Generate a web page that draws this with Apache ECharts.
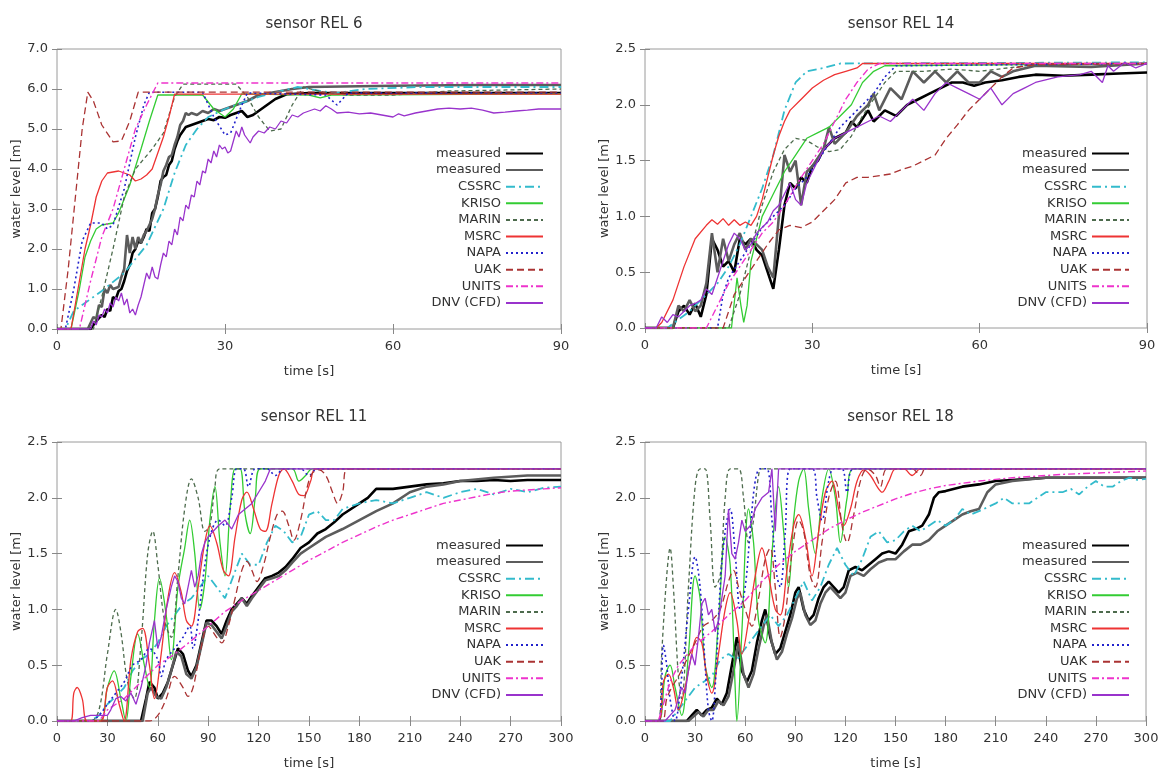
<!DOCTYPE html>
<html>
<head>
<meta charset="utf-8">
<script src="https://cdn.jsdelivr.net/npm/echarts@6/dist/echarts.min.js"></script>
<style>
  html, body { margin: 0; padding: 0; background: #fff; }
  #chart { width: 1163px; height: 773px; }
</style>
</head>
<body>
<div id="chart"></div>
<script>
// legend labels, same order in every panel
const seriesNames = ['measured', 'measured', 'CSSRC', 'KRISO', 'MARIN', 'MSRC', 'NAPA', 'UAK', 'UNITS', 'DNV (CFD)'];
const panelTitles = ['sensor REL 6', 'sensor REL 14', 'sensor REL 11', 'sensor REL 18'];
const xMaxes = [90, 90, 300, 300];
const yMaxes = [7, 2.5, 2.5, 2.5];
const ySteps = [1, 0.5, 0.5, 0.5];

// ---- sensor REL 6 ----
const rel6_meas1 = [[0,0],[6,0],[7,0.2],[8,0.35],[8.5,0.3],[9,0.5],[9.5,0.45],[10,0.8],[10.5,0.75],[11,0.95],[11.5,1.0],[12,1.2],[12.5,1.45],[13,1.6],[13.5,1.9],[14,2.0],[14.5,2.2],[15,2.15],[15.5,2.3],[16,2.5],[16.5,2.45],[17,2.9],[17.5,3.0],[18,3.3],[18.5,3.7],[19,3.8],[19.5,3.85],[20,4.1],[20.5,4.2],[21,4.5],[21.5,4.7],[22,4.85],[22.5,4.95],[23,5.05],[24,5.1],[25,5.15],[26,5.2],[27,5.25],[28,5.22],[29,5.3],[30,5.28],[31,5.35],[32,5.4],[33,5.45],[34,5.3],[35,5.35],[36,5.45],[37,5.55],[38,5.65],[39,5.75],[41,5.87],[45,5.9],[60,5.9],[75,5.9],[90,5.9]];
const rel6_meas2 = [[0,0],[5.5,0],[6.5,0.3],[7,0.25],[7.5,0.6],[8,0.55],[8.5,1.0],[9,0.9],[9.5,1.1],[10,1.0],[11,1.05],[11.5,1.3],[12,1.5],[12.5,2.35],[13,1.9],[13.5,2.3],[14,2.0],[14.5,2.3],[15,2.15],[15.5,2.35],[16,2.45],[16.5,2.6],[17,2.75],[17.5,3.0],[18,3.35],[18.5,3.6],[19,3.95],[19.5,4.1],[20,4.3],[20.5,4.35],[21,4.6],[21.5,4.8],[22,5.1],[22.5,5.2],[23,5.4],[23.5,5.35],[24,5.4],[25,5.35],[26,5.45],[27,5.4],[28,5.5],[29,5.45],[30,5.5],[31,5.55],[32,5.6],[33,5.65],[34,5.7],[36,5.85],[38,5.9],[42,6.0],[45,6.05],[60,6.08],[75,6.1],[90,6.1]];
const rel6_cssrc = [[0,0],[1.5,0],[3,0.45],[5,0.65],[8,0.95],[12,1.4],[16,2.1],[19,3.0],[21,3.9],[23,4.6],[25,5.0],[27,5.3],[30,5.5],[33,5.65],[36,5.8],[40,5.95],[43,6.05],[47,5.95],[50,5.9],[55,6.0],[65,6.05],[90,6.05]];
const rel6_kriso = [[0,0],[2.5,0],[4,1.0],[5,1.8],[6,2.2],[7,2.5],[8,2.6],[10,2.65],[11,2.9],[13,3.6],[15,4.5],[16.5,5.2],[18,5.85],[26,5.85],[28,5.5],[30,5.3],[31.5,5.5],[33,5.88],[45,5.85],[47,5.78],[49,5.85],[90,5.88]];
const rel6_marin = [[0,0],[6.5,0],[8,0.8],[10,2.0],[12,3.3],[14,4.0],[17,4.5],[19,4.9],[21,5.8],[22.5,6.12],[32,6.12],[34,5.8],[36,5.3],[38,4.95],[40,5.0],[42,5.6],[44,6.05],[48,5.9],[52,5.85],[60,5.85],[70,5.95],[90,6.0]];
const rel6_msrc = [[0,0],[2.5,0],[4,1.2],[5,2.0],[6,2.6],[7,3.3],[8,3.7],[9,3.9],[11,3.95],[13,3.85],[14,3.7],[15,3.75],[16,3.85],[17,4.0],[18,4.4],[19,4.8],[20,5.3],[21,5.87],[90,5.87]];
const rel6_napa = [[0,0],[1.5,0],[3,1.0],[4.5,2.2],[6,2.65],[8,2.65],[9,2.5],[10,2.6],[12,3.5],[14,4.8],[15.5,5.6],[16.5,5.92],[26,5.92],[28,5.3],[30,4.85],[31,4.9],[33,5.6],[34,5.9],[48,5.85],[50,5.6],[52,5.9],[90,5.9]];
const rel6_uak = [[0,0],[0.7,0],[2,1.5],[3.5,3.6],[4.5,5.0],[5.5,5.92],[6.5,5.7],[8,5.1],[10,4.68],[11.5,4.7],[13,5.2],[14.5,5.92],[90,5.92]];
const rel6_units = [[0,0],[4,0],[6,1.2],[8,2.3],[10,3.0],[12,4.0],[14,5.0],[16,5.6],[18,6.15],[90,6.15]];
const rel6_dnv = [[0,0],[6,0],[6.5,0.2],[7,0.1],[7.5,0.35],[8,0.3],[8.5,0.5],[9,0.4],[9.5,0.65],[10,0.55],[10.5,0.8],[11,0.7],[11.5,0.9],[12,0.6],[12.5,0.75],[13,0.4],[13.5,0.5],[14,0.35],[14.5,0.6],[15,0.8],[15.5,1.1],[16,1.4],[16.5,1.25],[17,1.55],[17.5,1.3],[18,1.25],[18.5,1.6],[19,1.9],[19.5,1.8],[20,2.2],[20.5,2.1],[21,2.5],[21.5,2.35],[22,2.8],[22.5,2.7],[23,3.1],[23.5,3.0],[24,3.35],[24.5,3.3],[25,3.7],[25.5,3.6],[26,3.95],[26.5,3.9],[27,4.25],[27.5,4.15],[28,4.45],[28.5,4.3],[29,4.6],[29.5,4.5],[30,4.55],[30.5,4.4],[31,4.45],[31.5,4.7],[32,4.95],[32.5,4.8],[33,5.05],[33.5,4.85],[34,4.75],[34.5,4.65],[35,4.8],[36,4.95],[37,4.9],[38,5.05],[39,5.0],[40,5.2],[41,5.15],[42,5.35],[43,5.3],[44,5.4],[45,5.45],[46,5.5],[47,5.45],[48,5.58],[49,5.5],[50,5.4],[52,5.42],[54,5.38],[56,5.4],[58,5.35],[60,5.3],[61,5.38],[62,5.33],[64,5.4],[66,5.45],[68,5.5],[70,5.52],[72,5.5],[74,5.52],[76,5.47],[78,5.4],[80,5.42],[82,5.45],[84,5.47],[86,5.5],[88,5.5],[90,5.5]];

// ---- sensor REL 14 ----
const rel14_meas1 = [[0,0],[5,0],[6,0.15],[7,0.2],[8,0.12],[9,0.22],[10,0.1],[11,0.3],[12,0.8],[13,0.7],[14,0.55],[15,0.6],[16,0.5],[17,0.8],[18,0.75],[19,0.8],[20,0.7],[21,0.65],[22,0.5],[23,0.35],[24,0.7],[25,1.1],[26,1.3],[27,1.25],[28,1.35],[29,1.3],[30,1.45],[31,1.5],[32,1.6],[33,1.65],[34,1.7],[36,1.75],[37,1.85],[38,1.8],[40,1.95],[41,1.85],[43,1.95],[45,1.9],[47,2.0],[49,2.05],[51,2.1],[53,2.15],[55,2.2],[57,2.2],[59,2.17],[61,2.2],[64,2.22],[67,2.25],[70,2.27],[75,2.26],[80,2.27],[85,2.28],[90,2.29]];
const rel14_meas2 = [[0,0],[5,0],[6,0.2],[7,0.15],[8,0.25],[9,0.15],[10,0.2],[11,0.4],[12,0.85],[13,0.5],[14,0.8],[15,0.6],[16,0.75],[17,0.85],[18,0.7],[19,0.8],[20,0.75],[21,0.7],[22,0.55],[23,0.45],[24,1.0],[25,1.55],[26,1.4],[27,1.5],[28,1.1],[29,1.4],[30,1.45],[32,1.6],[33,1.8],[34,1.65],[36,1.75],[38,1.9],[40,2.0],[41,2.1],[42,1.95],[44,2.15],[46,2.05],[48,2.3],[50,2.2],[52,2.3],[54,2.2],[56,2.3],[58,2.2],[60,2.2],[62,2.3],[64,2.25],[66,2.3],[70,2.35],[80,2.34],[90,2.37]];
const rel14_cssrc = [[0,0],[4,0],[8,0.15],[11,0.3],[13,0.4],[15,0.55],[17,0.75],[19,1.0],[21,1.25],[23,1.55],[25,1.95],[27,2.2],[29,2.3],[32,2.33],[35,2.37],[90,2.38]];
const rel14_kriso = [[0,0],[15.5,0],[16.5,0.45],[17.2,0.2],[17.7,0.05],[18.3,0.2],[19,0.6],[21,1.0],[23,1.2],[25,1.4],[27,1.55],[29,1.7],[31,1.75],[33,1.8],[35,1.9],[37,2.0],[39,2.2],[41,2.3],[43,2.35],[90,2.37]];
const rel14_marin = [[0,0],[15,0],[17,0.3],[19,0.7],[21,1.1],[23,1.4],[25,1.6],[27,1.7],[29,1.68],[31,1.62],[33,1.58],[35,1.6],[37,1.72],[39,1.9],[41,2.05],[43,2.2],[45,2.3],[50,2.3],[55,2.32],[60,2.3],[65,2.33],[70,2.36],[90,2.37]];
const rel14_msrc = [[0,0],[2,0],[3,0.05],[5,0.25],[7,0.55],[9,0.8],[11,0.92],[12,0.97],[13,0.93],[14,0.98],[15,0.92],[16,0.97],[17,0.92],[18,0.95],[19,0.92],[20,1.0],[21,1.15],[22,1.35],[23,1.55],[24,1.72],[25,1.85],[26,1.95],[28,2.05],[30,2.15],[32,2.22],[34,2.27],[36,2.3],[38,2.33],[39,2.37],[90,2.37]];
const rel14_napa = [[0,0],[13,0],[14,0.3],[15,0.45],[17,0.6],[19,0.75],[21,0.9],[23,1.0],[25,1.1],[27,1.25],[29,1.35],[31,1.5],[33,1.65],[35,1.8],[37,1.9],[39,2.0],[41,2.1],[43,2.25],[45,2.35],[90,2.37]];
const rel14_uak = [[0,0],[14,0],[16,0.3],[18,0.45],[20,0.6],[22,0.75],[24,0.88],[26,0.92],[28,0.9],[30,0.95],[32,1.05],[34,1.15],[36,1.3],[38,1.35],[40,1.35],[44,1.38],[46,1.42],[48,1.45],[50,1.5],[52,1.55],[54,1.7],[56,1.82],[58,1.95],[60,2.05],[62,2.15],[64,2.25],[66,2.33],[70,2.36],[90,2.37]];
const rel14_units = [[0,0],[11,0],[13,0.2],[15,0.4],[17,0.55],[19,0.7],[21,0.85],[23,0.95],[25,1.1],[28,1.35],[30,1.5],[32,1.65],[34,1.85],[36,2.05],[38,2.2],[40,2.32],[42,2.37],[90,2.37]];
const rel14_dnv = [[0,0],[2,0],[3,0.1],[4,0.05],[5,0.12],[6,0.1],[7,0.15],[8,0.2],[9,0.22],[10,0.25],[11,0.35],[12,0.3],[13,0.45],[14,0.6],[15,0.75],[16,0.85],[17,0.8],[18,0.7],[19,0.75],[20,0.85],[21,0.9],[22,0.95],[23,1.05],[24,1.1],[25,1.2],[26,1.3],[27,1.15],[28,1.1],[29,1.3],[30,1.4],[31,1.5],[32,1.6],[34,1.7],[36,1.75],[38,1.8],[40,1.85],[42,1.9],[44,1.85],[46,1.95],[48,2.05],[50,1.95],[52,2.1],[54,2.2],[56,2.15],[58,2.1],[60,2.05],[62,2.15],[64,2.0],[66,2.1],[68,2.15],[70,2.2],[74,2.25],[78,2.27],[80,2.3],[82,2.2],[83,2.35],[84,2.3],[86,2.38],[88,2.33],[90,2.37]];

// ---- sensor REL 11 ----
const rel11_meas1 = [[0,0],[50,0],[53,0.2],[55,0.35],[58,0.3],[60,0.2],[63,0.25],[66,0.35],[70,0.55],[72,0.65],[75,0.6],[78,0.45],[80,0.4],[83,0.5],[86,0.7],[89,0.9],[92,0.9],[95,0.85],[98,0.78],[101,0.9],[104,1.0],[107,1.05],[110,1.1],[113,1.05],[116,1.12],[120,1.2],[124,1.28],[128,1.3],[132,1.33],[136,1.38],[140,1.45],[145,1.55],[150,1.6],[155,1.68],[160,1.72],[165,1.78],[170,1.85],[175,1.9],[180,1.95],[185,2.0],[190,2.08],[200,2.08],[210,2.1],[220,2.12],[230,2.13],[240,2.15],[250,2.15],[260,2.16],[270,2.15],[280,2.16],[290,2.16],[300,2.16]];
const rel11_meas2 = [[0,0],[51,0],[54,0.25],[56,0.3],[59,0.22],[62,0.2],[65,0.3],[68,0.45],[71,0.62],[74,0.58],[77,0.42],[80,0.38],[83,0.48],[86,0.68],[89,0.88],[92,0.86],[95,0.8],[98,0.74],[101,0.85],[104,0.98],[107,1.03],[110,1.1],[113,1.03],[116,1.1],[120,1.18],[124,1.26],[128,1.28],[132,1.3],[136,1.35],[140,1.42],[145,1.5],[150,1.55],[160,1.65],[170,1.72],[180,1.8],[190,1.88],[200,1.95],[210,2.05],[220,2.1],[230,2.12],[240,2.15],[260,2.18],[280,2.2],[300,2.2]];
const rel11_cssrc = [[0,0],[20,0],[25,0.05],[30,0.15],[35,0.22],[40,0.3],[45,0.45],[50,0.55],[55,0.6],[60,0.7],[65,0.85],[70,0.95],[75,1.05],[80,1.1],[85,1.2],[90,1.3],[95,1.2],[100,1.1],[105,1.3],[110,1.5],[115,1.4],[120,1.4],[125,1.6],[130,1.75],[135,1.7],[140,1.6],[145,1.65],[150,1.85],[155,1.88],[160,1.8],[165,1.8],[170,1.9],[180,1.95],[190,1.98],[200,1.95],[210,2.0],[220,2.05],[230,2.0],[240,2.05],[250,2.08],[260,2.03],[270,2.08],[280,2.05],[290,2.09],[300,2.1]];
const rel11_kriso = [[0,0],[25,0],[30,0.3],[34,0.45],[38,0.2],[41,0],[44,0.4],[48,0.78],[52,0.5],[55,0.3],[58,0.9],[61,1.28],[65,0.95],[68,0.55],[72,1.2],[76,1.55],[79,1.8],[82,1.5],[85,1.0],[88,1.25],[91,1.8],[94,2.1],[97,1.6],[100,1.3],[103,1.9],[106,2.26],[109,2.26],[112,1.85],[115,1.68],[118,2.0],[121,2.26],[140,2.26],[144,2.15],[148,2.2],[152,2.26],[300,2.26]];
const rel11_marin = [[0,0],[20,0],[25,0.1],[30,0.6],[35,1.0],[38,0.8],[42,0.35],[46,0.2],[50,0.7],[54,1.5],[57,1.7],[60,1.4],[64,0.9],[68,0.75],[72,1.3],[76,1.9],[80,2.17],[84,2.0],[88,1.7],[91,1.75],[94,2.1],[97,2.26],[300,2.26]];
const rel11_msrc = [[0,0],[8,0],[10,0.25],[12,0.3],[15,0.2],[18,0],[26,0],[30,0.3],[33,0.36],[37,0.15],[40,0],[44,0.55],[48,0.8],[51,0.83],[55,0.5],[58,0.2],[62,0.6],[66,1.1],[70,1.33],[74,1.15],[77,0.9],[80,0.85],[84,1.2],[88,1.6],[91,1.75],[95,1.6],[99,1.35],[102,1.3],[106,1.65],[110,1.98],[113,2.05],[117,1.9],[121,1.72],[124,1.7],[128,1.95],[132,2.2],[135,2.26],[140,2.15],[144,2.03],[147,2.02],[151,2.15],[154,2.26],[300,2.26]];
const rel11_napa = [[0,0],[20,0],[25,0.05],[30,0.15],[35,0.25],[40,0.35],[45,0.5],[50,0.55],[55,0.65],[60,0.55],[62,0.4],[65,0.55],[70,0.65],[75,0.75],[79,0.85],[81,0.65],[84,0.9],[88,1.4],[92,1.7],[96,1.8],[100,1.75],[104,2.0],[107,2.26],[111,2.26],[114,2.1],[118,2.26],[125,2.26],[130,2.2],[135,2.26],[145,2.26],[150,2.2],[155,2.26],[300,2.26]];
const rel11_uak = [[0,0],[55,0],[60,0.05],[65,0.2],[70,0.4],[75,0.3],[78,0.22],[81,0.3],[85,0.6],[90,0.85],[95,0.75],[98,0.7],[102,0.85],[106,1.1],[110,1.35],[113,1.43],[116,1.35],[119,1.25],[123,1.4],[127,1.65],[131,1.85],[134,1.88],[138,1.75],[141,1.62],[145,1.8],[149,2.1],[152,2.22],[156,2.25],[160,2.2],[164,2.05],[167,1.95],[170,2.05],[173,2.26],[300,2.26]];
const rel11_units = [[0,0],[25,0],[30,0.1],[40,0.2],[50,0.35],[60,0.5],[70,0.6],[80,0.72],[90,0.85],[100,0.98],[110,1.08],[120,1.17],[130,1.26],[140,1.35],[150,1.44],[160,1.52],[170,1.6],[180,1.67],[190,1.74],[200,1.8],[210,1.85],[220,1.9],[230,1.95],[240,1.98],[250,2.01],[260,2.04],[270,2.06],[280,2.07],[290,2.08],[300,2.09]];
const rel11_dnv = [[0,0],[10,0],[15,0.03],[20,0.05],[30,0.05],[32,0.1],[35,0.2],[38,0.22],[41,0.18],[44,0.25],[47,0.15],[50,0.3],[53,0.5],[55,0.7],[58,0.9],[60,0.65],[62,0.75],[65,1.0],[68,1.2],[70,1.3],[72,1.25],[74,1.1],[76,1.05],[78,1.2],[80,1.35],[82,1.2],[84,1.3],[86,1.5],[88,1.6],[90,1.65],[93,1.7],[96,1.75],[100,1.8],[104,1.72],[108,1.85],[112,1.9],[116,1.95],[120,2.05],[124,2.15],[127,2.26],[300,2.26]];

// ---- sensor REL 18 ----
const rel18_meas1 = [[0,0],[25,0],[28,0.05],[31,0.1],[34,0.05],[37,0.1],[40,0.12],[43,0.2],[46,0.15],[49,0.25],[52,0.5],[55,0.75],[58,0.45],[61,0.35],[64,0.45],[67,0.7],[70,0.9],[72,1.0],[75,0.75],[78,0.6],[81,0.65],[84,0.8],[87,0.95],[90,1.15],[92,1.2],[95,1.0],[98,0.9],[101,0.95],[104,1.1],[107,1.2],[110,1.25],[113,1.2],[116,1.15],[119,1.2],[122,1.35],[126,1.38],[130,1.35],[134,1.4],[138,1.45],[142,1.5],[146,1.52],[150,1.5],[154,1.58],[158,1.7],[162,1.72],[166,1.75],[170,1.85],[173,2.0],[176,2.05],[180,2.06],[190,2.1],[200,2.12],[210,2.15],[220,2.16],[230,2.17],[240,2.18],[260,2.18],[280,2.18],[300,2.18]];
const rel18_meas2 = [[0,0],[26,0],[29,0.04],[32,0.08],[35,0.04],[38,0.1],[41,0.1],[44,0.18],[47,0.14],[50,0.22],[53,0.45],[56,0.7],[59,0.42],[62,0.3],[65,0.42],[68,0.65],[71,0.85],[73,0.95],[76,0.7],[79,0.55],[82,0.62],[85,0.78],[88,0.92],[91,1.1],[93,1.15],[96,0.95],[99,0.86],[102,0.9],[105,1.05],[108,1.15],[111,1.2],[114,1.15],[117,1.1],[120,1.15],[123,1.3],[127,1.33],[131,1.3],[135,1.36],[140,1.42],[145,1.45],[150,1.45],[155,1.52],[160,1.58],[165,1.58],[170,1.62],[175,1.7],[180,1.75],[185,1.8],[190,1.85],[195,1.88],[200,1.9],[205,2.05],[210,2.12],[220,2.15],[240,2.18],[270,2.18],[300,2.18]];
const rel18_cssrc = [[0,0],[15,0],[20,0.1],[25,0.2],[30,0.3],[35,0.35],[40,0.4],[45,0.55],[50,0.6],[55,0.55],[60,0.65],[65,0.75],[70,0.85],[75,0.95],[80,0.85],[85,0.95],[90,1.1],[95,1.25],[100,1.08],[105,1.2],[110,1.4],[115,1.55],[120,1.4],[125,1.3],[130,1.45],[135,1.65],[140,1.7],[145,1.6],[150,1.62],[155,1.7],[160,1.75],[165,1.7],[170,1.75],[175,1.8],[180,1.75],[185,1.8],[190,1.9],[195,1.85],[200,1.88],[210,1.95],[215,2.0],[220,1.95],[230,1.95],[235,2.0],[240,2.05],[245,2.05],[250,2.05],[255,2.08],[260,2.03],[265,2.1],[270,2.15],[275,2.1],[280,2.1],[285,2.15],[290,2.18],[295,2.16],[300,2.17]];
const rel18_kriso = [[0,0],[8,0],[12,0.4],[15,0.5],[18,0.3],[22,0.05],[26,0.6],[30,1.3],[33,1.1],[36,0.5],[40,0.3],[44,0.9],[48,1.65],[51,1.4],[54,0.3],[55,0],[58,0.8],[62,1.9],[65,1.6],[68,0.9],[72,0.7],[76,1.5],[80,2.1],[83,1.7],[86,1.2],[89,1.8],[92,2.15],[95,2.26],[98,1.9],[102,1.5],[106,2.0],[110,2.26],[114,2.0],[117,1.6],[121,2.0],[125,2.26],[300,2.26]];
const rel18_marin = [[0,0],[8,0],[10,0.6],[13,1.3],[15,1.55],[17,1.2],[20,0.4],[22,0.2],[26,1.2],[30,2.1],[33,2.26],[36,2.26],[39,1.8],[42,1.2],[45,1.3],[48,2.0],[51,2.26],[56,2.26],[59,2.0],[62,1.6],[65,1.8],[68,2.2],[70,2.26],[300,2.26]];
const rel18_msrc = [[0,0],[8,0],[11,0.35],[14,0.42],[17,0.3],[20,0.1],[24,0.3],[28,0.6],[31,0.75],[34,0.7],[37,0.4],[40,0.25],[44,0.6],[48,1.0],[51,1.15],[55,0.9],[58,0.6],[62,0.9],[66,1.3],[70,1.55],[74,1.3],[78,1.0],[81,0.95],[85,1.35],[89,1.75],[92,1.85],[96,1.65],[100,1.3],[104,1.7],[108,2.05],[112,2.15],[116,1.9],[119,1.75],[123,1.9],[127,2.15],[131,2.25],[135,2.2],[139,2.1],[142,2.05],[146,2.15],[150,2.26],[155,2.26],[160,2.2],[165,2.26],[300,2.26]];
const rel18_napa = [[0,0],[8,0],[11,0.68],[13,0.5],[15,0.2],[18,0],[22,0.4],[26,1.0],[30,1.47],[33,1.2],[36,0.5],[38,0.1],[40,0],[42,0.3],[45,1.2],[48,1.7],[51,1.9],[54,1.5],[57,1.0],[60,1.2],[63,1.7],[66,2.15],[69,2.26],[73,2.26],[76,1.8],[79,1.3],[81,1.2],[84,1.7],[87,2.26],[100,2.26],[103,2.0],[106,1.8],[110,2.15],[113,2.26],[118,2.26],[121,2.05],[125,2.26],[300,2.26]];
const rel18_uak = [[0,0],[10,0],[13,0.2],[16,0.3],[20,0.4],[25,0.55],[30,0.7],[35,0.85],[40,0.9],[45,1.0],[50,1.25],[53,1.35],[56,1.2],[60,1.0],[64,0.85],[68,1.1],[72,1.45],[75,1.55],[78,1.2],[81,0.75],[84,0.95],[88,1.5],[92,1.8],[95,1.7],[99,1.3],[102,1.2],[106,1.6],[110,2.0],[114,2.15],[118,1.75],[121,1.6],[125,1.85],[129,2.15],[133,2.26],[138,2.2],[141,2.1],[145,2.26],[160,2.26],[165,2.2],[168,2.26],[300,2.26]];
const rel18_units = [[0,0],[8,0],[10,0.1],[15,0.35],[20,0.5],[30,0.68],[40,0.8],[50,0.95],[60,1.08],[70,1.25],[80,1.4],[90,1.52],[100,1.62],[110,1.72],[120,1.8],[130,1.87],[140,1.93],[150,1.99],[160,2.04],[170,2.08],[180,2.11],[200,2.15],[220,2.18],[250,2.21],[300,2.24]];
const rel18_dnv = [[0,0],[12,0],[15,0.05],[18,0.1],[20,0.2],[22,0.3],[24,0.25],[26,0.45],[28,0.6],[30,0.5],[32,0.75],[34,1.05],[36,1.1],[38,0.95],[40,1.0],[42,0.8],[44,0.9],[46,1.1],[48,1.3],[50,1.9],[52,1.5],[54,1.45],[56,1.6],[58,1.8],[60,1.7],[63,1.75],[66,1.9],[70,2.0],[74,2.05],[76,2.26],[78,1.7],[80,2.26],[300,2.26]];

const panelData = [
  [rel6_meas1, rel6_meas2, rel6_cssrc, rel6_kriso, rel6_marin, rel6_msrc, rel6_napa, rel6_uak, rel6_units, rel6_dnv],
  [rel14_meas1, rel14_meas2, rel14_cssrc, rel14_kriso, rel14_marin, rel14_msrc, rel14_napa, rel14_uak, rel14_units, rel14_dnv],
  [rel11_meas1, rel11_meas2, rel11_cssrc, rel11_kriso, rel11_marin, rel11_msrc, rel11_napa, rel11_uak, rel11_units, rel11_dnv],
  [rel18_meas1, rel18_meas2, rel18_cssrc, rel18_kriso, rel18_marin, rel18_msrc, rel18_napa, rel18_uak, rel18_units, rel18_dnv]
];

// line look per series (gnuplot style)
const lineStyles = [
  { color: '#000000', width: 2.6, type: 'solid' },
  { color: '#5c5c5c', width: 2.6, type: 'solid' },
  { color: '#33bbcc', width: 1.8, type: [9, 4, 2, 4] },
  { color: '#33cc33', width: 1.3, type: 'solid' },
  { color: '#4d6b4d', width: 1.3, type: [4, 3] },
  { color: '#ee3333', width: 1.3, type: 'solid' },
  { color: '#2222cc', width: 1.6, type: [2, 3] },
  { color: '#aa3333', width: 1.3, type: [7, 4] },
  { color: '#ee33cc', width: 1.4, type: [7, 3, 2, 3] },
  { color: '#9933cc', width: 1.3, type: 'solid' }
];

const font = 'DejaVu Sans';
const grids = [
  { left: 57, top: 49, width: 504, height: 280 },
  { left: 645, top: 49, width: 502, height: 279 },
  { left: 57, top: 442, width: 504, height: 279 },
  { left: 645, top: 442, width: 501, height: 279 }
];
const legendPos = [
  { right: 619, top: 147 },
  { right: 33, top: 147 },
  { right: 619, top: 539 },
  { right: 33, top: 539 }
];
const yNameGap = [31, 34, 31, 34];

let option = {
  animation: false,
  backgroundColor: '#fff',
  title: [], grid: [], xAxis: [], yAxis: [], legend: [], series: []
};

panelData.forEach((list, p) => {
  const g = grids[p];
  option.grid.push(Object.assign({ show: true, borderColor: '#9a9a9a', borderWidth: 1, backgroundColor: 'transparent' }, g));
  option.title.push({
    text: panelTitles[p],
    left: g.left + g.width / 2,
    top: g.top - 37,
    textAlign: 'center',
    textStyle: { fontFamily: font, fontSize: 15, fontWeight: 'normal', color: '#333' }
  });
  const tick = { show: true, inside: true, length: 5, lineStyle: { color: '#888' } };
  // bottom + top x axes
  option.xAxis.push({
    type: 'value', gridIndex: p, min: 0, max: xMaxes[p], interval: 30,
    name: 'time [s]', nameLocation: 'middle', nameGap: 36,
    nameTextStyle: { fontFamily: font, fontSize: 13, color: '#333' },
    axisLine: { show: false }, axisTick: tick, splitLine: { show: false },
    axisLabel: { margin: 11, fontFamily: font, fontSize: 13, color: '#333' }
  });
  option.xAxis.push({
    type: 'value', gridIndex: p, position: 'top', min: 0, max: xMaxes[p], interval: 30,
    axisLine: { show: false }, axisTick: tick, splitLine: { show: false }, axisLabel: { show: false }
  });
  // left + right y axes
  option.yAxis.push({
    type: 'value', gridIndex: p, min: 0, max: yMaxes[p], interval: ySteps[p],
    name: 'water level [m]', nameLocation: 'middle', nameGap: yNameGap[p],
    nameTextStyle: { fontFamily: font, fontSize: 13, color: '#333' },
    axisLine: { show: false }, axisTick: tick, splitLine: { show: false },
    axisLabel: { margin: 9, fontFamily: font, fontSize: 13, color: '#333', formatter: v => v.toFixed(1) }
  });
  option.yAxis.push({
    type: 'value', gridIndex: p, position: 'right', min: 0, max: yMaxes[p], interval: ySteps[p],
    axisLine: { show: false }, axisTick: tick, splitLine: { show: false }, axisLabel: { show: false }
  });

  const names = [];
  list.forEach((pts, k) => {
    const id = p + '|' + k;
    names.push(id);
    const ls = lineStyles[k];
    option.series.push({
      name: id,
      type: 'line',
      xAxisIndex: 2 * p,
      yAxisIndex: 2 * p,
      data: pts,
      symbol: 'none',
      smooth: (p >= 2 && k >= 3 && k <= 7) ? 0.35 : false,
      clip: true,
      itemStyle: { color: ls.color },
      lineStyle: { color: ls.color, width: ls.width, type: ls.type },
      emphasis: { disabled: true }
    });
  });

  option.legend.push({
    data: names,
    orient: 'vertical',
    align: 'right',
    right: legendPos[p].right,
    top: legendPos[p].top,
    padding: 0,
    itemWidth: 37,
    itemHeight: 14,
    itemGap: 3.6,
    selectedMode: false,
    // hide the marker the line icon carries, keep only the line sample
    itemStyle: { color: 'rgba(0,0,0,0)', borderWidth: 0, opacity: 0 },
    formatter: n => seriesNames[+n.split('|')[1]],
    textStyle: { fontFamily: font, fontSize: 13, color: '#333' }
  });
});

const chart = echarts.init(document.getElementById('chart'), null, { renderer: 'canvas' });
chart.setOption(option);
</script>
</body>
</html>
